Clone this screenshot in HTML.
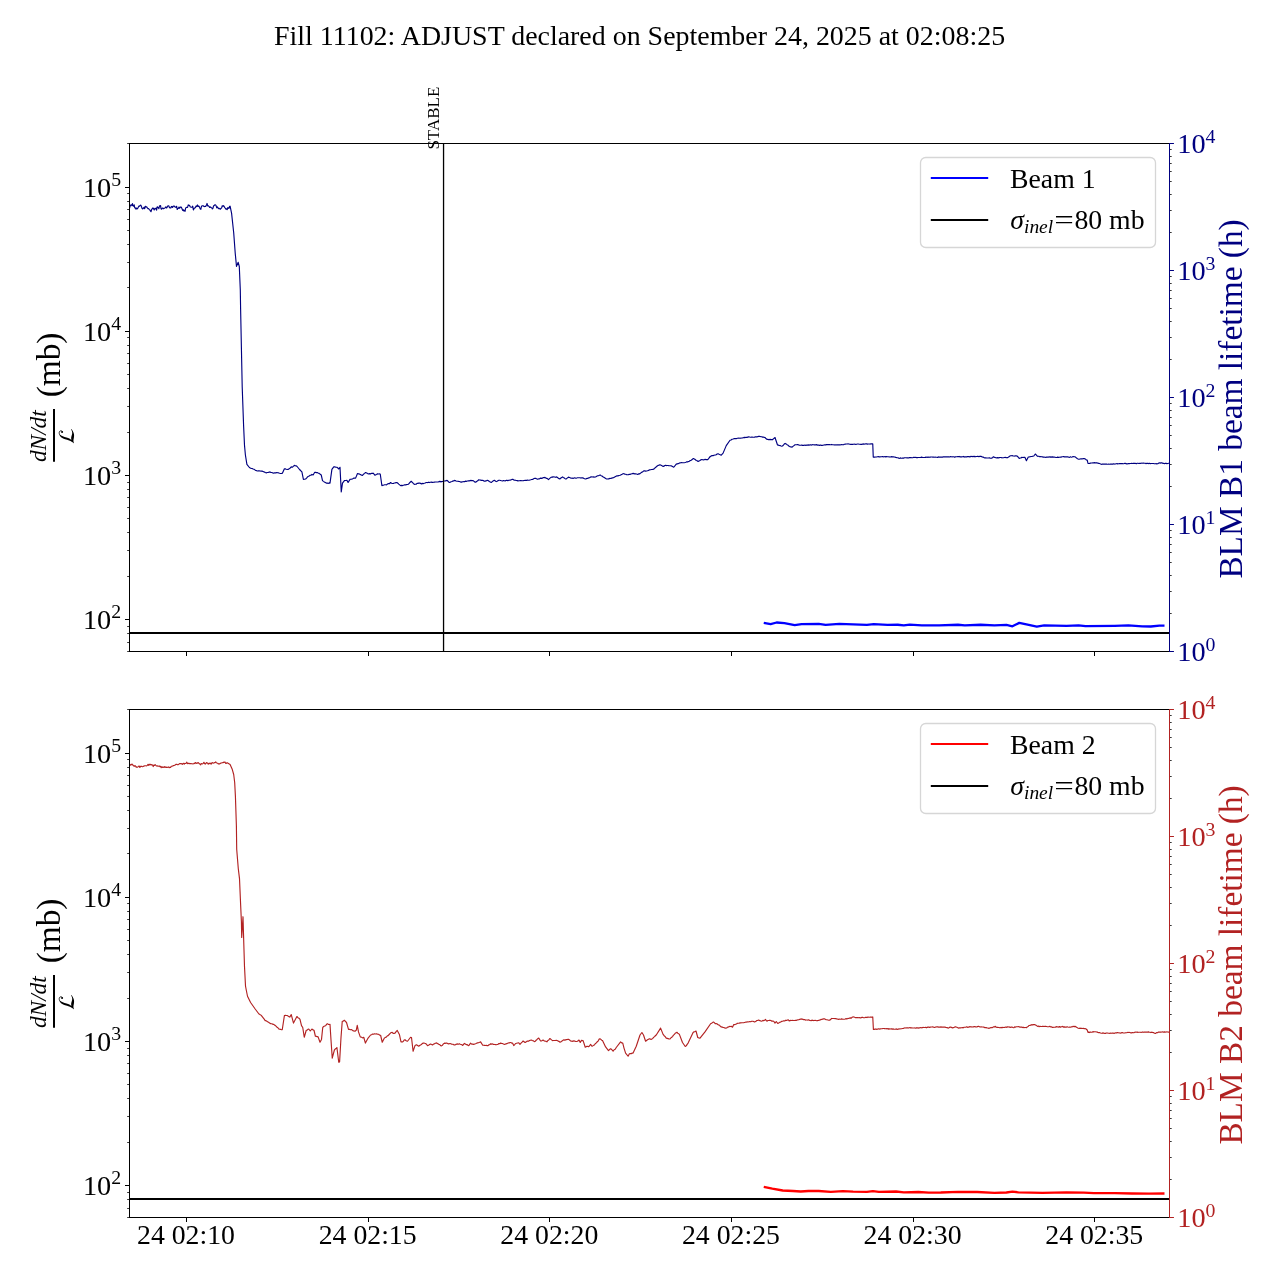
<!DOCTYPE html>
<html lang="en"><head><meta charset="utf-8"><title>Fill 11102</title>
<style>html,body{margin:0;padding:0;background:#fff}body{width:1280px;height:1280px;overflow:hidden}svg{display:block;will-change:transform}text{font-family:'Liberation Serif', serif;}</style></head><body>
<svg width="1280" height="1280" viewBox="0 0 1280 1280">
<rect width="1280" height="1280" fill="#fff"/>
<text x="639.6" y="45.4" font-size="27.93" text-anchor="middle">Fill 11102: ADJUST declared on September 24, 2025 at 02:08:25</text>
<clipPath id="c1"><rect x="129.5" y="143.5" width="1040.0" height="508.0"/></clipPath>
<g clip-path="url(#c1)" fill="none" stroke-linejoin="round">
<path d="M129.57,208.08 L130.15,206.02 L130.72,204.93 L131.3,204.73 L131.88,205.64 L132.46,203.65 L133.05,205.75 L133.63,206.25 L134.19,204.89 L134.75,208.01 L135.31,207.73 L135.87,209.1 L136.43,208.05 L136.98,208.89 L137.63,208.48 L138.28,207.2 L138.93,206.11 L139.58,206.08 L140.23,205.23 L140.87,205.14 L141.5,206.78 L142.14,208.53 L142.77,208.89 L143.41,208.28 L144.04,207.24 L144.68,208.66 L145.31,206.25 L145.99,206.84 L146.67,206.86 L147.34,207.88 L147.95,208.59 L148.56,208.64 L149.17,209.33 L149.78,209.95 L150.39,210.82 L151.03,211.7 L151.66,209.37 L152.3,208.75 L152.93,207.88 L153.56,208.67 L154.2,210 L154.83,208.46 L155.47,208.89 L156.04,208.06 L156.61,210.21 L157.18,206.73 L157.75,207.28 L158.33,207.77 L158.9,208.74 L159.47,205.82 L160.04,206.25 L160.55,205.58 L161.06,208.79 L161.66,209.22 L162.27,208.17 L162.88,208.17 L163.49,208.75 L164.1,208.28 L164.68,208.1 L165.26,207.79 L165.84,206.85 L166.42,207.86 L167,207.67 L167.58,206.13 L168.16,205.74 L168.84,206.09 L169.52,207.75 L170.2,207.88 L170.79,207.95 L171.38,206.43 L171.97,206.59 L172.57,207.5 L173.16,206.27 L173.75,206.05 L174.33,206.13 L174.91,206.91 L175.49,207.06 L176.07,207.44 L176.65,206.24 L177.23,209.54 L177.81,208.48 L178.42,208.32 L179.03,207.13 L179.64,208.29 L180.25,207.43 L180.86,206.86 L181.45,207.45 L182.05,208.85 L182.64,210.39 L183.23,209.6 L183.82,211.01 L184.41,210.31 L185.05,211.28 L185.68,207.97 L186.32,207.61 L186.95,207.27 L187.59,207.38 L188.22,204.88 L188.86,205.53 L189.49,205.23 L190.13,206.78 L190.76,207.08 L191.4,207.22 L192.03,207.27 L192.71,206.16 L193.39,209.96 L194.06,208.48 L194.74,208.11 L195.42,207.47 L196.09,206.05 L196.77,206.58 L197.45,204.94 L198.13,206.45 L198.8,206.12 L199.48,207.11 L200.16,208.89 L200.83,209.41 L201.51,206.19 L202.19,205.84 L202.8,205.73 L203.41,205.8 L204.02,206.54 L204.63,206.57 L205.24,206.25 L205.85,206.36 L206.45,205.04 L207.06,203.43 L207.67,205.98 L208.28,205.74 L208.96,206.33 L209.64,207.47 L210.31,206.86 L210.99,207.45 L211.67,207.72 L212.35,208.89 L212.95,208.39 L213.56,205.98 L214.17,205.56 L214.78,204.75 L215.39,204.73 L216.07,205.67 L216.75,207.82 L217.42,206.86 L218.03,207.92 L218.64,208.67 L219.25,208.39 L219.86,208.87 L220.47,209.09 L221.06,208.26 L221.66,207.92 L222.25,205.73 L222.84,206.24 L223.43,205.69 L224.02,206.25 L224.66,207.58 L225.29,208.1 L225.93,209.14 L226.56,208.89 L227.17,209.61 L227.78,207.59 L228.39,208.15 L229,208.34 L229.61,206.25 L230.1,206.2 L231.6,213.4 L233.7,232.7 L235.2,253 L236.5,266.4 L238.2,262.3 L239.3,266.5 L240.3,290 L240.6,308.6 L241.4,347.7 L242.2,386.7 L243.6,425.8 L244.5,445.3 L245.4,455 L246.9,464.4 L249.4,467.5 L250.32,468 L251.25,468.46 L252.18,468.5 L253.1,469 L253.98,469.26 L254.86,469.86 L255.74,470.48 L256.62,470.67 L257.5,471 L258.38,470.82 L259.26,470.88 L260.14,471 L261.02,471.15 L261.9,471 L262.77,471.38 L263.64,471.71 L264.51,472.11 L265.38,472.55 L266.25,472.9 L267.19,472.54 L268.12,472.41 L269.06,472.2 L270,471.9 L270.94,472.46 L271.88,472.5 L272.81,472.96 L273.75,473.1 L274.8,472.74 L275.85,472.84 L276.9,472.5 L277.82,472.78 L278.75,472.92 L279.68,473.25 L280.6,473.5 L281.55,473.45 L282.5,473.1 L284.4,468.75 L285.32,468.87 L286.25,469.24 L287.18,469.48 L288.1,469.4 L289.15,468.83 L290.2,467.99 L291.25,466.9 L292.5,467.25 L293.45,466.13 L294.4,465.4 L295.23,465.74 L296.07,465.87 L296.9,466.25 L298.75,468.5 L299.8,469.79 L300.85,470.78 L301.9,471.9 L303.4,479.4 L304.5,479.24 L305.6,479 L306.55,478.03 L307.5,476.9 L308.38,476.31 L309.26,475.92 L310.14,475.29 L311.02,475.23 L311.9,474.4 L313.1,475 L314.75,472.25 L315.59,472.35 L316.43,472.58 L317.26,472.47 L318.1,472.9 L319.15,473.37 L320.2,474.17 L321.25,475 L322.5,480.6 L323.44,481.36 L324.38,481.98 L325.31,482.52 L326.25,483.1 L327.19,483.01 L328.12,483.4 L329.06,482.94 L330,483.1 L331.9,469.4 L333.75,466.9 L334.8,466.89 L335.85,467.22 L336.9,467.25 L337.82,467.97 L338.75,469 L340,467.25 L341.25,491.9 L342.5,483.1 L344.4,480.6 L345.23,480.53 L346.07,480.52 L346.9,480.25 L348.1,482.5 L350,479.4 L350.8,479.21 L351.6,479.1 L352.4,478.85 L353.2,478.56 L354,477.98 L354.8,478.1 L355.6,478.1 L357.5,473.5 L358.33,473.82 L359.17,473.88 L360,474.37 L360.83,474.8 L361.67,475.3 L362.5,475.4 L363.53,474.22 L364.57,473.39 L365.6,472.5 L366.65,473.04 L367.7,473.59 L368.75,474 L369.62,473.61 L370.49,473.94 L371.36,473.34 L372.23,473.46 L373.1,473.1 L374.05,474.15 L375,475.25 L375.83,474.82 L376.67,474.52 L377.5,473.75 L378.42,473.95 L379.33,473.94 L380.25,474 L381.9,485.6 L382.82,485.23 L383.75,485.08 L384.68,484.74 L385.6,484.75 L386.55,484.82 L387.5,484.01 L388.45,483.6 L389.4,483.75 L390.6,482.5 L391.55,483.27 L392.5,483.5 L393.38,483.51 L394.26,483.05 L395.14,483.04 L396.02,482.58 L396.9,482.5 L397.82,483.19 L398.75,484.13 L399.68,484.89 L400.6,485.6 L401.43,485.4 L402.27,485.6 L403.1,485.32 L403.93,485.09 L404.77,484.75 L405.6,484.83 L406.43,484.62 L407.27,484.53 L408.1,484.4 L409.15,483.48 L410.2,482.21 L411.25,481.25 L412.3,482.35 L413.35,483.48 L414.4,484.4 L415.27,484.2 L416.14,484.25 L417.01,483.35 L417.88,483.36 L418.75,483.1 L419.62,483.05 L420.49,483.35 L421.36,483.89 L422.23,483.36 L423.1,483.75 L424.15,483.29 L425.2,483.03 L426.25,482.5 L427.08,482.49 L427.92,482.59 L428.75,482.17 L429.58,482.55 L430.42,482.21 L431.25,482.14 L432.08,482.4 L432.92,482.36 L433.75,482.25 L434.62,482.06 L435.5,481.97 L436.38,482 L437.25,481.95 L438.12,481.85 L439,481.64 L439.88,481.36 L440.75,481.86 L441.62,481.61 L442.5,481.5 L443.33,481.16 L444.17,480.95 L445,480.94 L445.83,480.84 L446.67,480.42 L447.5,480.6 L448.45,481.78 L449.4,482.5 L450.23,482.22 L451.07,481.75 L451.9,481.51 L452.73,481.14 L453.57,480.92 L454.4,480.4 L455.26,480.64 L456.11,481.03 L456.97,481.29 L457.82,481.2 L458.68,481.39 L459.54,481.54 L460.39,481.85 L461.25,482.1 L462.14,481.83 L463.04,481.79 L463.93,481.68 L464.82,481.56 L465.71,481.13 L466.61,481.33 L467.5,481 L468.33,480.87 L469.17,480.82 L470,480.67 L470.83,480.35 L471.67,480.63 L472.5,480.5 L473.53,480.8 L474.57,481.85 L475.6,482.25 L476.65,481.43 L477.7,480.83 L478.75,479.75 L479.69,479.98 L480.62,480.11 L481.56,480.35 L482.5,480.25 L483.33,480.58 L484.17,481.16 L485,481.25 L485.83,480.9 L486.67,480.63 L487.5,480.25 L488.44,480.71 L489.38,481.46 L490.31,482.05 L491.25,482.5 L492.3,481.67 L493.35,480.8 L494.4,480.25 L495.32,480.92 L496.25,481.6 L497.08,481.22 L497.92,480.68 L498.75,480.25 L499.69,480.28 L500.62,480.51 L501.56,480.77 L502.5,481 L503.39,480.48 L504.29,480.69 L505.18,480.91 L506.07,480.37 L506.96,480.43 L507.86,480.63 L508.75,480.25 L509.62,480.19 L510.49,480.06 L511.36,479.72 L512.23,479.36 L513.1,479.4 L514.15,480.23 L515.2,480.18 L516.25,480.5 L517.14,480.58 L518.04,480.83 L518.93,480.74 L519.82,480.65 L520.71,480.5 L521.61,480.69 L522.5,480.75 L523.33,480.64 L524.17,480.48 L525,480.36 L525.83,480.26 L526.67,480.32 L527.5,480.16 L528.33,480.23 L529.17,480.25 L530,480 L530.8,479.8 L531.6,479.5 L532.4,479.5 L533.2,479.11 L534,478.52 L534.8,478.39 L535.6,478.25 L536.55,478.78 L537.5,479.25 L538.33,478.91 L539.17,478.96 L540,478.36 L540.83,478.12 L541.67,478.38 L542.5,478.11 L543.33,477.56 L544.17,477.62 L545,477.4 L545.88,478.16 L546.75,478.32 L547.62,478.86 L548.5,479.6 L549.42,478.62 L550.33,477.88 L551.25,477.25 L552.08,476.92 L552.92,477.06 L553.75,476.84 L554.58,477.03 L555.42,477.31 L556.25,476.9 L557.19,477.26 L558.12,478.1 L559.06,478.66 L560,479 L560.83,477.93 L561.67,477.62 L562.5,476.9 L563.38,477.45 L564.25,477.95 L565.12,478.68 L566,479.1 L566.83,478.36 L567.67,477.82 L568.5,477.1 L569.42,477.42 L570.33,477.85 L571.25,478.25 L572.14,478.05 L573.04,478.47 L573.93,478.03 L574.82,477.79 L575.71,478.2 L576.61,478.07 L577.5,477.75 L578.33,477.74 L579.17,477.7 L580,477.71 L580.83,478.05 L581.67,477.82 L582.5,477.9 L583.53,478.15 L584.57,478.77 L585.6,479 L586.41,478.64 L587.21,478.35 L588.02,478.34 L588.83,477.85 L589.64,477.59 L590.44,477.14 L591.25,476.75 L592.19,477.02 L593.12,476.85 L594.06,477.09 L595,477 L595.88,476.83 L596.75,476.27 L597.62,475.8 L598.5,475.75 L599.38,475.31 L600.25,475 L601.12,475.66 L602,476.03 L602.88,476.77 L603.75,477.25 L604.69,477.84 L605.62,478.5 L606.56,478.85 L607.5,479 L608.33,478.88 L609.17,478.86 L610,478.35 L610.83,478.45 L611.67,478.11 L612.5,477.9 L613.38,477.71 L614.26,477.15 L615.14,476.66 L616.02,476.19 L616.9,475.9 L617.93,475.88 L618.97,475.48 L620,475.25 L621.03,474.86 L622.07,474.33 L623.1,473.75 L623.98,473.62 L624.86,474.25 L625.74,474.29 L626.62,474.61 L627.5,474.75 L628.33,474.71 L629.17,474.23 L630,474.4 L631.03,474.02 L632.07,473.72 L633.1,473.4 L633.93,473.63 L634.77,473.88 L635.6,473.79 L636.43,474.03 L637.27,474.33 L638.1,474.4 L638.93,473.68 L639.77,473.83 L640.6,473.1 L641.65,472.22 L642.7,471.84 L643.75,470.9 L644.69,470.89 L645.62,471.13 L646.56,470.95 L647.5,470.75 L648.53,470.41 L649.57,469.81 L650.6,469.75 L651.65,469.55 L652.7,469.37 L653.75,469.1 L654.62,468.45 L655.49,467.42 L656.36,466.75 L657.23,466.02 L658.1,465.4 L659.05,465.12 L660,464.75 L661.03,465.16 L662.07,465.83 L663.1,466.4 L663.93,466.16 L664.77,465.57 L665.6,465.25 L666.41,465.56 L667.21,465.48 L668.02,465.49 L668.83,465.8 L669.64,465.79 L670.44,465.76 L671.25,465.9 L672.08,466.26 L672.92,466.79 L673.75,467.25 L676.25,464.1 L677.19,463.86 L678.12,463.68 L679.06,463.24 L680,462.9 L680.83,462.74 L681.67,462.56 L682.5,462.74 L683.33,462.7 L684.17,462.75 L685,462.5 L685.88,462.17 L686.76,461.79 L687.64,461.88 L688.52,461.47 L689.4,461.25 L690.22,460.51 L691.04,460.41 L691.86,459.74 L692.68,459.06 L693.5,458.5 L694.42,459.14 L695.34,459.58 L696.26,460.46 L697.18,460.83 L698.1,461.5 L699.05,460.93 L700,460.45 L700.95,459.82 L701.9,459.5 L702.7,459.7 L703.5,459.84 L704.3,459.73 L705.1,459.32 L705.9,459.63 L706.7,459.61 L707.5,459.75 L708.44,458.85 L709.38,457.48 L710.31,456.52 L711.25,455.9 L712.19,455.6 L713.12,455.61 L714.06,455.2 L715,455 L716.03,454.93 L717.07,454.03 L718.1,453.75 L719.15,454.26 L720.2,454.73 L721.25,455.25 L722.17,454.04 L723.1,453.1 L726.25,445.6 L730,440.25 L731.03,440.01 L732.07,439.21 L733.1,439 L733.98,438.68 L734.86,438.64 L735.74,438.47 L736.62,438.58 L737.5,438.25 L738.33,438.11 L739.17,438.21 L740,438 L740.83,438.22 L741.67,437.96 L742.5,437.9 L743.39,437.8 L744.29,437.36 L745.18,437.58 L746.07,437.23 L746.96,437.33 L747.86,437.12 L748.75,436.9 L749.58,437.05 L750.42,437.2 L751.25,437.14 L752.08,436.99 L752.92,437.22 L753.75,437.25 L754.56,437.13 L755.36,436.78 L756.17,436.92 L756.98,436.91 L757.79,436.57 L758.59,436.41 L759.4,436.25 L760.2,436.5 L761,436.78 L761.8,436.7 L762.6,437.12 L763.4,437.03 L764.2,437.41 L765,437.5 L765.95,438.53 L766.9,439.4 L767.7,439.25 L768.5,439.6 L769.3,439.58 L770.1,439.34 L770.9,439.58 L771.7,439.6 L772.5,439.75 L773.33,438.86 L774.17,438.32 L775,437.5 L777.5,445 L778.38,445.12 L779.26,445.51 L780.14,445.58 L781.02,445.96 L781.9,446.25 L782.74,445.83 L783.58,444.89 L784.41,443.87 L785.25,443.4 L786.12,443.9 L787,444.68 L787.88,445.09 L788.75,446 L789.8,446.57 L790.85,446.83 L791.9,447.25 L792.93,446.41 L793.97,445.59 L795,444.75 L795.83,444.71 L796.67,444.71 L797.5,444.47 L798.33,444.78 L799.17,445.15 L800,445.29 L800.83,445.23 L801.67,445.04 L802.5,445.4 L803.33,445.3 L804.17,445.32 L805,445.06 L805.83,445.44 L806.67,445.01 L807.5,445.14 L808.33,444.92 L809.17,445.2 L810,444.81 L810.83,444.82 L811.67,445.1 L812.5,444.68 L813.33,444.75 L814.17,444.88 L815,444.75 L815.89,444.9 L816.79,444.66 L817.68,445.12 L818.57,445.07 L819.46,445.41 L820.36,445.03 L821.25,445.4 L822.14,445.41 L823.04,445.24 L823.93,445 L824.82,444.88 L825.71,444.89 L826.61,444.6 L827.5,444.6 L828.33,444.56 L829.17,444.52 L830,444.68 L830.83,444.79 L831.67,444.45 L832.5,444.72 L833.33,444.79 L834.17,445 L835,444.66 L835.83,445 L836.67,444.75 L837.5,444.92 L838.33,444.89 L839.17,444.92 L840,444.9 L840.89,444.72 L841.79,444.49 L842.68,444.75 L843.57,444.62 L844.46,444.24 L845.36,444.1 L846.25,444 L847.14,444.02 L848.04,443.9 L848.93,443.99 L849.82,444.29 L850.71,444.44 L851.61,444.31 L852.5,444.4 L853.33,444.22 L854.17,444.17 L855,444.22 L855.83,444.4 L856.67,444.27 L857.5,444.01 L858.33,444.03 L859.17,444.24 L860,444.21 L860.83,444.41 L861.67,444.33 L862.5,444.11 L863.33,443.94 L864.17,444.06 L865,444 L865.86,443.79 L866.72,443.83 L867.58,444.08 L868.44,443.99 L869.31,444.01 L870.17,444.08 L871.03,443.74 L871.89,443.9 L872.75,443.75 L873.25,457.1 L874.09,457.08 L874.93,457.08 L875.77,457.03 L876.61,457.04 L877.45,456.7 L878.29,456.67 L879.12,456.86 L879.96,456.89 L880.8,456.7 L881.64,456.73 L882.48,456.48 L883.32,456.82 L884.16,456.71 L885,456.6 L885.83,456.88 L886.67,456.62 L887.5,456.71 L888.33,456.78 L889.17,457.02 L890,456.94 L890.83,456.95 L891.67,456.67 L892.5,456.84 L893.33,456.78 L894.17,457.03 L895,457.1 L895.94,457.49 L896.88,457.61 L897.81,457.7 L898.75,458.1 L899.56,458.39 L900.38,457.86 L901.19,458.23 L902,458.16 L902.81,457.99 L903.62,458.13 L904.44,457.72 L905.25,457.77 L906.06,457.78 L906.88,457.86 L907.69,457.74 L908.5,458.01 L909.31,457.65 L910.12,457.64 L910.94,457.46 L911.75,457.7 L912.56,457.72 L913.38,457.44 L914.19,457.33 L915,457.5 L915.81,457.26 L916.61,457.65 L917.42,457.58 L918.23,457.48 L919.03,457.54 L919.84,457.48 L920.65,457.46 L921.45,457.11 L922.26,457.44 L923.06,457.45 L923.87,457.5 L924.68,457.46 L925.48,457.18 L926.29,457.32 L927.1,457.03 L927.9,457.47 L928.71,457.01 L929.52,457.32 L930.32,457.07 L931.13,457.05 L931.94,457.02 L932.74,457.09 L933.55,457.19 L934.35,457.29 L935.16,457.05 L935.97,457.22 L936.77,457.2 L937.58,457.37 L938.39,456.94 L939.19,457.06 L940,457 L940.81,457.1 L941.61,457.01 L942.42,457.07 L943.23,456.86 L944.03,456.9 L944.84,456.85 L945.65,456.84 L946.45,456.79 L947.26,456.91 L948.06,456.72 L948.87,456.82 L949.68,456.99 L950.48,456.64 L951.29,456.72 L952.1,456.81 L952.9,456.7 L953.71,456.7 L954.52,457.15 L955.32,456.9 L956.13,456.76 L956.94,456.71 L957.74,456.57 L958.55,456.63 L959.35,456.44 L960.16,456.89 L960.97,456.71 L961.77,456.92 L962.58,456.77 L963.39,456.45 L964.19,457.06 L965,456.75 L965.81,456.81 L966.62,456.85 L967.44,456.61 L968.25,456.59 L969.06,456.63 L969.88,456.93 L970.69,456.43 L971.5,456.44 L972.31,456.67 L973.12,456.26 L973.94,456.79 L974.75,456.36 L975.56,456.71 L976.38,456.48 L977.19,456.43 L978,456.29 L978.81,456.68 L979.62,456.39 L980.44,456.2 L981.25,456.4 L982.19,456.87 L983.12,457.13 L984.06,457.61 L985,457.9 L985.86,457.86 L986.73,458.01 L987.59,458.05 L988.45,458 L989.31,457.76 L990.17,458.13 L991.04,458.29 L991.9,458.1 L992.7,457.49 L993.5,456.75 L994.7,457.4 L995.9,457.75 L996.75,457.86 L997.6,457.68 L998.45,457.88 L999.3,457.67 L1000.15,457.54 L1001,457.48 L1001.85,457.84 L1002.7,457.77 L1003.55,457.75 L1004.4,457.55 L1005.25,457.34 L1006.1,457.74 L1006.95,457.59 L1007.8,457.6 L1008.7,456.9 L1009.6,456.3 L1010.5,455.8 L1011.31,455.73 L1012.12,455.55 L1012.94,455.97 L1013.75,456.01 L1014.56,456.06 L1015.38,455.89 L1016.19,455.78 L1017,456 L1018.1,457.03 L1019.2,458.5 L1020.1,458.05 L1021,457.98 L1021.9,457.3 L1022.9,457.45 L1023.9,457.3 L1024.9,457.3 L1026.4,460.7 L1028.3,457 L1029.22,456.91 L1030.13,456.79 L1031.05,456.51 L1031.97,456.37 L1032.88,456.2 L1033.8,456 L1035.3,454 L1036.4,455.06 L1037.5,456.3 L1038.32,456.23 L1039.14,456.43 L1039.97,456.81 L1040.79,456.49 L1041.61,456.79 L1042.43,456.9 L1043.26,457.08 L1044.08,457.12 L1044.9,457.3 L1045.76,457.37 L1046.61,457.13 L1047.47,457.13 L1048.33,457.18 L1049.19,456.79 L1050.04,457.13 L1050.9,456.9 L1051.74,457.15 L1052.59,456.86 L1053.43,457.14 L1054.27,457.12 L1055.11,457.27 L1055.96,457.54 L1056.8,457.5 L1057.64,457.09 L1058.49,457.4 L1059.33,457.22 L1060.17,457.04 L1061.01,457.28 L1061.86,456.74 L1062.7,456.7 L1063.56,456.53 L1064.41,456.9 L1065.27,456.94 L1066.13,456.89 L1066.99,456.72 L1067.84,456.83 L1068.7,457.2 L1069.59,457.39 L1070.47,456.82 L1071.36,457.2 L1072.24,457.04 L1073.13,456.49 L1074.01,456.8 L1074.9,456.7 L1075.75,457.4 L1076.6,458.07 L1077.45,458.71 L1078.3,459.1 L1079.16,459.23 L1080.01,458.95 L1080.87,458.85 L1081.73,458.78 L1082.59,458.83 L1083.44,458.52 L1084.3,458.6 L1085.27,458.93 L1086.23,459.96 L1087.2,460.1 L1088,463.4 L1088.81,463.49 L1089.62,463.44 L1090.43,463.17 L1091.24,463.01 L1092.05,463.01 L1092.85,462.89 L1093.66,462.85 L1094.47,462.64 L1095.28,462.92 L1096.09,462.82 L1096.9,462.7 L1097.83,463.15 L1098.75,463.36 L1099.67,463.56 L1100.6,464 L1101.41,464.33 L1102.22,464.17 L1103.03,464.12 L1103.84,464.18 L1104.65,464 L1105.46,464.17 L1106.27,463.95 L1107.08,464.24 L1107.89,464.24 L1108.7,464.1 L1109.53,464.21 L1110.36,464.12 L1111.18,464.05 L1112.01,464.05 L1112.84,464.1 L1113.67,463.89 L1114.49,464.06 L1115.32,464.04 L1116.15,463.7 L1116.98,463.61 L1117.81,463.9 L1118.63,463.78 L1119.46,463.68 L1120.29,463.59 L1121.12,463.59 L1121.94,463.48 L1122.77,463.66 L1123.6,463.7 L1124.4,463.44 L1125.2,463.39 L1126,463.63 L1126.8,463.87 L1127.6,463.81 L1128.4,463.57 L1129.2,463.64 L1130,463.52 L1130.8,463.52 L1131.6,463.4 L1132.4,463.51 L1133.2,463.32 L1134,463.36 L1134.8,463.43 L1135.6,463.43 L1136.4,463.74 L1137.2,463.27 L1138,463.21 L1138.8,463.47 L1139.6,463.44 L1140.4,463.44 L1141.2,463.3 L1142,463.06 L1142.8,463.23 L1143.6,463.06 L1144.4,463.25 L1145.23,463.27 L1146.06,463.59 L1146.89,463.3 L1147.73,463.4 L1148.56,463.59 L1149.39,463.24 L1150.22,463.61 L1151.05,463.47 L1151.88,463.45 L1152.71,463.53 L1153.54,463.47 L1154.38,463.79 L1155.21,463.71 L1156.04,463.66 L1156.87,463.84 L1157.7,463.8 L1158.53,463.29 L1159.35,462.81 L1160.17,463.18 L1161,462.7 L1161.85,462.86 L1162.7,463.32 L1163.55,463.3 L1164.4,463.7 L1165.25,463.34 L1166.1,463.37 L1166.95,463.62 L1167.8,463.46 L1168.65,463.22 L1169.5,463.25" stroke="#000080" stroke-width="1.15"/>
<path d="M129.5,633 H1169.5" stroke="#000" stroke-width="2.08"/>
<path d="M443.55,143.5 V651.5" stroke="#000" stroke-width="1.3"/>
<path d="M763.75,622.9 L770.6,624.1 L776.6,622.5 L784.4,623.2 L794.7,625.1 L801.6,624.2 L818.75,623.9 L825.6,624.9 L839.4,623.9 L853.1,624.4 L866.9,624.9 L873.75,624.2 L887.5,624.9 L897.8,624.75 L903.8,625.4 L909.8,624.6 L921.9,625.3 L939.1,625.4 L958,624.75 L964.8,625.3 L980.6,624.75 L994.4,625.4 L1006.4,624.9 L1012.4,626.3 L1019.3,622.9 L1028.75,624.9 L1036.8,626.6 L1044.2,625.4 L1066.6,625.95 L1078.6,625.4 L1085.5,626.1 L1114.7,625.8 L1128.4,625.4 L1142.2,626.3 L1150.8,626.5 L1159.4,625.6 L1164.5,625.6" stroke="#0000ff" stroke-width="2.3" stroke-linecap="butt"/>
</g>
<path d="M129.5,651.5 h-2.35 M129.5,642.5 h-2.35 M129.5,633.5 h-2.35 M129.5,626.5 h-2.35 M129.5,576.5 h-2.35 M129.5,550.5 h-2.35 M129.5,532.5 h-2.35 M129.5,518.5 h-2.35 M129.5,507.5 h-2.35 M129.5,497.5 h-2.35 M129.5,489.5 h-2.35 M129.5,482.5 h-2.35 M129.5,432.5 h-2.35 M129.5,406.5 h-2.35 M129.5,388.5 h-2.35 M129.5,374.5 h-2.35 M129.5,363.5 h-2.35 M129.5,353.5 h-2.35 M129.5,345.5 h-2.35 M129.5,337.5 h-2.35 M129.5,287.5 h-2.35 M129.5,262.5 h-2.35 M129.5,244.5 h-2.35 M129.5,230.5 h-2.35 M129.5,219.5 h-2.35 M129.5,209.5 h-2.35 M129.5,201.5 h-2.35 M129.5,193.5 h-2.35 M129.5,143.5 h-2.35" stroke="#000" stroke-opacity="0.78" stroke-width="1" fill="none"/>
<path d="M129.5,619.5 h-4.5 M129.5,475.5 h-4.5 M129.5,331.5 h-4.5 M129.5,187.5 h-4.5" stroke="#000" stroke-width="1" fill="none"/>
<path d="M1169.5,613.5 h2.2 M1169.5,591.5 h2.2 M1169.5,575.5 h2.2 M1169.5,562.5 h2.2 M1169.5,552.5 h2.2 M1169.5,544.5 h2.2 M1169.5,537.5 h2.2 M1169.5,530.5 h2.2 M1169.5,486.5 h2.2 M1169.5,464.5 h2.2 M1169.5,448.5 h2.2 M1169.5,435.5 h2.2 M1169.5,425.5 h2.2 M1169.5,417.5 h2.2 M1169.5,410.5 h2.2 M1169.5,403.5 h2.2 M1169.5,359.5 h2.2 M1169.5,337.5 h2.2 M1169.5,321.5 h2.2 M1169.5,308.5 h2.2 M1169.5,298.5 h2.2 M1169.5,290.5 h2.2 M1169.5,283.5 h2.2 M1169.5,276.5 h2.2 M1169.5,232.5 h2.2 M1169.5,210.5 h2.2 M1169.5,194.5 h2.2 M1169.5,181.5 h2.2 M1169.5,171.5 h2.2 M1169.5,163.5 h2.2 M1169.5,156.5 h2.2 M1169.5,149.5 h2.2" stroke="#000" stroke-opacity="0.78" stroke-width="1" fill="none"/>
<path d="M1169.5,651.5 h4.45 M1169.5,524.5 h4.45 M1169.5,397.5 h4.45 M1169.5,270.5 h4.45 M1169.5,143.5 h4.45" stroke="#000080" stroke-width="1" fill="none"/>
<path d="M186.5,651.5 v4.5 M368.5,651.5 v4.5 M549.5,651.5 v4.5 M731.5,651.5 v4.5 M913.5,651.5 v4.5 M1094.5,651.5 v4.5" stroke="#000" stroke-width="1" fill="none"/>
<path d="M129.5,651.5 V143.5 M129.0,143.5 H1169.5 M129.0,651.5 H1169.5" stroke="#000" stroke-width="1" fill="none" stroke-linecap="butt"/>
<path d="M1169.5,143.0 V652.0" stroke="#000080" stroke-width="1" fill="none"/>
<text x="82.9" y="628.9" font-size="28.3">10<tspan font-size="19.8" dy="-10.7">2</tspan></text>
<text x="82.9" y="484.9" font-size="28.3">10<tspan font-size="19.8" dy="-10.7">3</tspan></text>
<text x="82.9" y="340.9" font-size="28.3">10<tspan font-size="19.8" dy="-10.7">4</tspan></text>
<text x="82.9" y="196.9" font-size="28.3">10<tspan font-size="19.8" dy="-10.7">5</tspan></text>
<text x="1177.3" y="660.9" font-size="28.3" fill="#000080">10<tspan font-size="19.8" dy="-10.3">0</tspan></text>
<text x="1177.3" y="533.9" font-size="28.3" fill="#000080">10<tspan font-size="19.8" dy="-10.3">1</tspan></text>
<text x="1177.3" y="406.9" font-size="28.3" fill="#000080">10<tspan font-size="19.8" dy="-10.3">2</tspan></text>
<text x="1177.3" y="279.9" font-size="28.3" fill="#000080">10<tspan font-size="19.8" dy="-10.3">3</tspan></text>
<text x="1177.3" y="152.9" font-size="28.3" fill="#000080">10<tspan font-size="19.8" dy="-10.3">4</tspan></text>
<text transform="translate(1241.7,578.6) rotate(-90)" font-size="33.33" textLength="359.3" lengthAdjust="spacing" fill="#000080">BLM B1 beam lifetime (h)</text>
<g transform="translate(61.4,461.7) rotate(-90)">
<text x="-0.4" y="-15.5" font-size="23.33" font-style="italic">dN/dt</text>
<path d="M0,-7.4 H52.8" stroke="#000" stroke-width="2" fill="none"/>
</g>
<g transform="translate(56,424) scale(0.01875)"><circle cx="325" cy="430" r="54" fill="#000"/><path d="M335,395 C295,335 210,345 180,420 C158,480 170,560 235,625" fill="none" stroke="#000" stroke-width="42" stroke-linecap="round"/><path d="M195,575 C300,640 420,680 560,720 C680,755 760,790 820,850 C800,760 810,680 840,600 C870,520 870,440 850,380 C835,335 810,300 795,280 L835,275 C880,340 940,430 960,540 C975,650 950,760 930,850 C925,900 935,960 950,1010 L925,1020 C880,960 800,920 700,880 C560,830 400,790 290,720 C240,690 205,640 195,575 Z" fill="#000"/></g>
<g transform="translate(61.4,461.7) rotate(-90)">
<text x="56" y="-1.5" font-size="33.33" xml:space="preserve"> (mb)</text>
</g>
<rect x="920.5" y="157.5" width="235" height="90" rx="5.3" ry="5.3" fill="#fff" fill-opacity="0.8" stroke="#d6d6d6" stroke-width="1.3"/>
<path d="M930.8,178 H988.2" stroke="#0000ff" stroke-width="2.05"/>
<path d="M930.8,220 H988.2" stroke="#000" stroke-width="2.05"/>
<text x="1010" y="187.8" font-size="27.78">Beam 1</text>
<text y="228.8" font-size="27.78"><tspan x="1010.3" font-style="italic">σ</tspan><tspan font-size="19.45" font-style="italic" dy="4.4">inel</tspan><tspan x="1054.3" y="228.8" textLength="19.6" lengthAdjust="spacingAndGlyphs">=</tspan><tspan x="1074.4" y="228.8">80 mb</tspan></text>
<clipPath id="c2"><rect x="129.5" y="709.5" width="1040.0" height="508.0"/></clipPath>
<g clip-path="url(#c2)" fill="none" stroke-linejoin="round">
<path d="M129.6,764.15 L130.22,764.87 L130.85,765.15 L131.47,764.47 L132.1,764.1 L132.78,765.04 L133.47,765.65 L134.15,766.29 L134.83,765.62 L135.52,765.95 L136.2,767.22 L136.8,766.95 L137.4,767.27 L138,766.86 L138.6,766.21 L139.2,765.98 L139.85,767.46 L140.5,766.37 L141.15,766.35 L141.8,766.39 L142.5,766.68 L143.2,766.45 L143.9,765.96 L144.6,765.83 L145.3,765.72 L145.98,765.79 L146.67,765.86 L147.35,765.34 L148.03,764.33 L148.72,765.33 L149.4,764.26 L150.04,764.85 L150.68,764.29 L151.31,764.98 L151.95,764.65 L152.59,765.12 L153.22,766.54 L153.86,765.05 L154.5,765.48 L155.17,764.69 L155.83,765.34 L156.5,765.95 L157.17,765.79 L157.83,766.18 L158.5,766.25 L159.18,765.9 L159.87,766.75 L160.55,766.28 L161.23,767.64 L161.92,766.72 L162.6,767.41 L163.27,767.07 L163.93,767.46 L164.6,766.73 L165.27,767.42 L165.93,766.88 L166.6,767.47 L167.25,767.31 L167.9,767.21 L168.55,766.92 L169.2,767.75 L169.9,767.27 L170.6,767.46 L171.3,766.21 L172,766.29 L172.7,765.93 L173.38,765.64 L174.07,765.43 L174.75,765.23 L175.43,764.7 L176.12,764.33 L176.8,764.42 L177.4,764.59 L178,764.72 L178.6,764.2 L179.2,763.95 L179.8,763.55 L180.42,763.61 L181.04,763.48 L181.66,763.85 L182.28,764.4 L182.9,763.55 L183.56,763.22 L184.21,764.24 L184.87,763.3 L185.53,763.45 L186.19,763.24 L186.84,762.16 L187.5,763.6 L188.2,763.58 L188.9,763.14 L189.6,763.68 L190.3,763.68 L191,763.5 L191.64,763.71 L192.28,763.78 L192.91,763.97 L193.55,763.64 L194.19,763.21 L194.82,763.65 L195.46,762.55 L196.1,763.11 L196.76,763.44 L197.41,763 L198.07,762.52 L198.73,763.11 L199.39,763.82 L200.04,764.14 L200.7,764.8 L201.34,763.49 L201.99,763.79 L202.63,763.92 L203.27,763.4 L203.91,762.25 L204.56,763.52 L205.2,764.04 L205.81,763.47 L206.42,762.63 L207.03,762.87 L207.64,763.18 L208.25,764.22 L208.86,763.4 L209.47,763.19 L210.08,763.86 L210.69,763.14 L211.3,764.04 L211.92,762.71 L212.54,762.63 L213.16,762.98 L213.78,763.12 L214.4,762.59 L215.04,762.66 L215.69,761.94 L216.33,762.66 L216.97,762.94 L217.61,763.2 L218.26,763.94 L218.9,763.75 L219.58,763.99 L220.27,763.4 L220.95,762.95 L221.63,762.89 L222.32,762.76 L223,762.69 L223.66,762.17 L224.31,762.37 L224.97,761.94 L225.63,763.36 L226.29,763.38 L226.94,762.73 L227.6,762.9 L230.1,764.4 L232.1,768.9 L233.7,774.5 L234.7,782.7 L235.4,795.9 L235.9,811.1 L236.4,826.3 L236.7,849.3 L238.3,868.8 L239.5,878.6 L240.6,904 L241.4,921.6 L241.7,937.5 L243,916.7 L243.6,937.2 L244.5,966.5 L245.5,986 L246.25,990 L247.5,996.25 L250.6,1002.5 L255,1008.75 L258.75,1013.75 L259.58,1014.42 L260.42,1014.82 L261.25,1015.4 L264.4,1019.4 L265.2,1020.76 L266,1020.66 L266.8,1021.16 L267.6,1021.79 L268.4,1022.14 L269.2,1022.66 L270,1023.4 L270.94,1023.77 L271.88,1023.8 L272.81,1024.34 L273.75,1024.4 L274.58,1025.12 L275.42,1025.52 L276.25,1026.4 L277.08,1027.27 L277.92,1027.77 L278.75,1029 L279.62,1029.17 L280.5,1029.31 L281.38,1029.78 L282.25,1029.75 L284.4,1015.6 L285.43,1015.4 L286.47,1015.55 L287.5,1015.6 L288.62,1016.48 L289.75,1017.1 L291.25,1014.6 L293.5,1023.1 L296.9,1016.5 L297.93,1017.64 L298.97,1018.2 L300,1019.4 L301.5,1025.6 L302.75,1027.5 L304.25,1037.25 L306.25,1030.25 L307.08,1030.18 L307.92,1029.27 L308.75,1029 L310.25,1031 L311.9,1029 L312.95,1029.9 L314,1030.25 L315.4,1036.25 L316.3,1036.4 L317.2,1036.59 L318.1,1036.9 L320,1042.25 L321.5,1039.4 L322.75,1027.5 L323.7,1026.46 L324.65,1025.97 L325.6,1025.8 L326.55,1024.35 L327.5,1023.75 L328.33,1024.32 L329.17,1024.49 L330,1024.4 L331,1040 L332.25,1058.1 L334.4,1050 L335.23,1049.08 L336.07,1048.59 L336.9,1047.5 L338.75,1062.25 L339.6,1061.9 L341,1037.5 L342.25,1021.25 L343.32,1021.07 L344.4,1020.25 L345.45,1021.31 L346.5,1022.5 L348.5,1029.4 L349.42,1029.34 L350.33,1029.79 L351.25,1029.6 L352.19,1030.09 L353.12,1030.92 L354.06,1030.94 L355,1031.25 L356.25,1030.25 L357.25,1025.4 L358.5,1031.9 L360.25,1036.9 L361.38,1037.13 L362.5,1037.9 L363.75,1037.25 L365.4,1043.1 L368.1,1038.1 L370.6,1035 L371.55,1034.68 L372.5,1034.1 L373.45,1034.24 L374.4,1033.75 L375.43,1034.03 L376.47,1033.89 L377.5,1034.1 L378.53,1034.28 L379.57,1035.07 L380.6,1035.25 L382.25,1042.25 L384.4,1038.1 L385.32,1037.39 L386.25,1037.13 L387.18,1036 L388.1,1035.6 L389.15,1034.5 L390.2,1033.41 L391.25,1032.5 L392.19,1032.41 L393.12,1033.43 L394.06,1033.34 L395,1033.1 L396.12,1031.61 L397.25,1030.4 L399.4,1034.4 L401,1041.9 L402.5,1041.9 L403.33,1041.37 L404.17,1040.05 L405,1039.75 L405.83,1040.54 L406.67,1041 L407.5,1041.25 L410.6,1037.25 L411.5,1037.5 L413.1,1051.25 L415,1045.6 L416.5,1044.75 L417.62,1045.42 L418.75,1046.25 L419.62,1045.54 L420.49,1045.05 L421.36,1044.47 L422.23,1043.65 L423.1,1043.1 L423.93,1043.04 L424.77,1043.31 L425.6,1043.5 L426.55,1044.45 L427.5,1045.6 L428.53,1045.25 L429.57,1044.56 L430.6,1044 L431.55,1044.56 L432.5,1045 L433.44,1044.09 L434.38,1043.86 L435.31,1043.34 L436.25,1042.9 L437.12,1043.28 L438,1043.88 L438.88,1044.33 L439.75,1044.55 L440.62,1045.62 L441.5,1045.9 L442.47,1045.18 L443.43,1043.92 L444.4,1043.1 L445.2,1043.34 L446,1043.07 L446.8,1043.09 L447.6,1043.43 L448.4,1043.93 L449.2,1043.64 L450,1043.75 L450.83,1043.61 L451.67,1044.23 L452.5,1044.25 L453.33,1044.42 L454.17,1044.88 L455,1045 L455.88,1044.35 L456.76,1044.09 L457.64,1043.92 L458.52,1044.26 L459.4,1043.75 L460.24,1044.19 L461.07,1044.44 L461.91,1044.84 L462.75,1045.4 L464.4,1043.4 L465.27,1044 L466.14,1044.58 L467.01,1044.56 L467.88,1045.23 L468.75,1045.6 L470.6,1043.1 L471.65,1044.09 L472.7,1044.12 L473.75,1044.4 L474.69,1043.96 L475.62,1043.74 L476.56,1043.31 L477.5,1042.9 L478.53,1042.73 L479.57,1042.33 L480.6,1041.9 L482.75,1045.25 L483.64,1045.2 L484.53,1045.35 L485.43,1045.52 L486.32,1045.34 L487.21,1045.57 L488.1,1045.6 L488.93,1044.78 L489.77,1044.66 L490.6,1043.75 L491.41,1044.26 L492.21,1043.85 L493.02,1044.39 L493.83,1044.37 L494.64,1044.5 L495.44,1044.56 L496.25,1044.75 L497.12,1044.49 L497.99,1044.33 L498.86,1043.49 L499.73,1043.68 L500.6,1043.1 L501.55,1043.38 L502.5,1043.51 L503.45,1044.08 L504.4,1044.4 L505.2,1044.29 L506,1043.85 L506.8,1043.67 L507.6,1043.25 L508.4,1042.93 L509.2,1043.01 L510,1042.5 L510.83,1042.5 L511.67,1043.14 L512.5,1043.1 L513.75,1045.6 L514.67,1044.64 L515.6,1043.5 L516.65,1043.2 L517.7,1042.96 L518.75,1042.75 L520,1044.4 L521.03,1043.21 L522.07,1042.14 L523.1,1041 L524.05,1041.75 L525,1042.5 L525.89,1042.12 L526.79,1041.35 L527.68,1040.96 L528.57,1041.16 L529.46,1040.58 L530.36,1040.24 L531.25,1040 L532.3,1040.51 L533.35,1040.83 L534.4,1041.6 L535.27,1041.27 L536.14,1040.21 L537.01,1039.47 L537.88,1038.57 L538.75,1038.1 L540.6,1041 L541.43,1040.88 L542.27,1040.51 L543.1,1040 L544.05,1040.83 L545,1041.17 L545.95,1041.25 L546.9,1041.9 L547.85,1040.49 L548.8,1039.96 L549.75,1038.5 L550.67,1039.06 L551.58,1039.89 L552.5,1040.6 L553.44,1040.49 L554.38,1040.55 L555.31,1040.48 L556.25,1040.25 L557.19,1040.53 L558.12,1041.12 L559.06,1041.37 L560,1042.25 L561.03,1041.72 L562.07,1040.89 L563.1,1040.25 L563.91,1039.76 L564.71,1040.26 L565.52,1039.9 L566.33,1039.55 L567.14,1039.56 L567.94,1039.4 L568.75,1039.4 L569.58,1040.05 L570.42,1040.69 L571.25,1041.25 L572.14,1041.13 L573.04,1041.36 L573.93,1040.67 L574.82,1041.19 L575.71,1041.41 L576.61,1041.48 L577.5,1041.25 L579,1040 L580.25,1042.5 L581.5,1040.25 L582.3,1040.62 L583.1,1040.6 L585.25,1047.25 L586.08,1046.78 L586.91,1046.38 L587.74,1046.44 L588.57,1046.78 L589.4,1046 L590.6,1044.4 L591.9,1046.25 L592.73,1045.91 L593.57,1045.26 L594.4,1045 L595.2,1043.74 L596,1043.26 L596.8,1042.23 L597.6,1041.55 L598.4,1040.59 L599.2,1039.12 L600,1038.75 L600.83,1039.35 L601.67,1040.17 L602.5,1040.6 L605.6,1046.9 L608.5,1050.6 L609.55,1049.55 L610.6,1048.75 L611.43,1049.32 L612.27,1050.17 L613.1,1051.25 L614.15,1049.71 L615.2,1049.26 L616.25,1047.5 L620.6,1041.9 L621.67,1042.83 L622.75,1043.1 L624,1048.1 L625.6,1053.1 L628.1,1056.25 L629.4,1053.75 L630.33,1053.46 L631.25,1053.75 L632.17,1053.03 L633.1,1053.1 L636.25,1046.25 L640,1035 L641.9,1032.5 L643.5,1035 L645.6,1041.25 L646.55,1040.51 L647.5,1039.84 L648.45,1039.34 L649.4,1038.75 L650.23,1038.99 L651.07,1039.39 L651.9,1039 L652.77,1038.38 L653.64,1037.39 L654.51,1036.65 L655.38,1035.76 L656.25,1035 L660.6,1028.1 L663.1,1034.4 L664.15,1035.73 L665.2,1036.68 L666.25,1038.1 L667.19,1038.39 L668.12,1038.66 L669.06,1039 L670,1039 L670.88,1037.9 L671.76,1037.26 L672.64,1036.31 L673.52,1035.15 L674.4,1034.4 L675.23,1033.25 L676.07,1032.85 L676.9,1032.25 L677.73,1033.17 L678.57,1033.63 L679.4,1034.4 L682.5,1042.5 L685.25,1046.5 L686.2,1045.89 L687.15,1044.37 L688.1,1043.1 L693.1,1032.5 L694.07,1031.85 L695.03,1031.49 L696,1031 L697.75,1037.5 L698.88,1037.91 L700,1038.1 L705,1031.9 L710.6,1023.75 L711.57,1023.32 L712.53,1022.61 L713.5,1022.1 L714.35,1022.62 L715.2,1023.6 L716.05,1023.55 L716.9,1023.75 L717.77,1024.43 L718.64,1024.91 L719.51,1025.25 L720.38,1026.32 L721.25,1026.9 L722.12,1027.06 L722.99,1027.38 L723.86,1027.51 L724.73,1028.04 L725.6,1028.1 L726.65,1027.95 L727.7,1027.15 L728.75,1026.9 L729.58,1026.38 L730.42,1026.55 L731.25,1026.25 L732.5,1027.25 L733.75,1024.6 L734.64,1024.68 L735.54,1024.22 L736.43,1023.99 L737.32,1023.32 L738.21,1023.27 L739.11,1023.28 L740,1022.9 L740.89,1022.9 L741.79,1022.72 L742.68,1022.76 L743.57,1022.73 L744.46,1022.46 L745.36,1022.19 L746.25,1022.25 L747.14,1021.8 L748.04,1022.02 L748.93,1021.79 L749.82,1021.65 L750.71,1021.79 L751.61,1021.25 L752.5,1021.25 L753.33,1021.41 L754.17,1021.84 L755,1021.9 L755.94,1021.23 L756.88,1020.48 L757.81,1020.36 L758.75,1020 L759.58,1020.61 L760.42,1020.71 L761.25,1021.25 L762.08,1020.99 L762.92,1020.41 L763.75,1020.6 L764.58,1020.27 L765.4,1019.4 L766.9,1021.25 L767.93,1020.53 L768.97,1020.44 L770,1020.25 L770.94,1020.47 L771.88,1021.19 L772.81,1021.03 L773.75,1021.25 L775,1023.1 L776.25,1021.5 L777.75,1023.5 L778.7,1022.9 L779.65,1022.27 L780.6,1022.09 L781.55,1021.43 L782.5,1021.25 L783.33,1020.91 L784.17,1020.85 L785,1020.9 L785.83,1020.18 L786.67,1020.52 L787.5,1020 L788.33,1019.77 L789.17,1020.84 L790,1020.6 L790.89,1020.43 L791.79,1020.47 L792.68,1020.41 L793.57,1020.54 L794.46,1020.45 L795.36,1020.36 L796.25,1020.4 L797.08,1020.03 L797.92,1019.85 L798.75,1019.77 L799.58,1019.42 L800.42,1019.17 L801.25,1019.1 L802.08,1018.93 L802.92,1019.41 L803.75,1019.67 L804.58,1019.48 L805.42,1020.08 L806.25,1020 L807.05,1020.04 L807.86,1020.11 L808.66,1019.76 L809.46,1020.32 L810.27,1020.5 L811.07,1020.69 L811.88,1020.17 L812.68,1020.34 L813.48,1020.56 L814.29,1020.55 L815.09,1020.34 L815.89,1020.53 L816.7,1020.78 L817.5,1020.6 L818.36,1020.5 L819.23,1020.13 L820.09,1020.14 L820.95,1019.35 L821.81,1019.55 L822.67,1019.07 L823.54,1018.91 L824.4,1018.75 L825.27,1019.24 L826.14,1019.74 L827.01,1019.76 L827.88,1019.99 L828.75,1020.25 L829.69,1020.19 L830.62,1019.55 L831.56,1018.45 L832.5,1018.5 L833.33,1018.45 L834.17,1018.52 L835,1018.59 L835.83,1018.49 L836.67,1019.04 L837.5,1019.01 L838.33,1019.44 L839.17,1019.07 L840,1019.2 L840.88,1019.17 L841.75,1018.9 L842.62,1019.22 L843.5,1019.21 L844.38,1019.23 L845.25,1019.02 L846.12,1018.59 L847,1018.92 L847.88,1018.38 L848.75,1018.5 L849.62,1018.07 L850.49,1017.87 L851.36,1018.07 L852.23,1017.16 L853.1,1017 L853.91,1016.9 L854.71,1017.28 L855.52,1017.59 L856.33,1017.57 L857.14,1017.67 L857.94,1017.47 L858.75,1017.75 L859.57,1017.63 L860.4,1017.94 L861.22,1017.64 L862.04,1017.42 L862.87,1017.44 L863.69,1017.76 L864.51,1017.79 L865.34,1017.45 L866.16,1017.13 L866.99,1017.63 L867.81,1017.07 L868.63,1017.19 L869.46,1017.21 L870.28,1017.06 L871.1,1016.98 L871.93,1017.32 L872.75,1016.9 L873.4,1029.4 L874.26,1029.41 L875.12,1028.95 L875.99,1029.06 L876.85,1029.4 L877.71,1029 L878.58,1028.74 L879.44,1029.09 L880.3,1028.92 L881.16,1028.75 L882.02,1028.79 L882.89,1028.51 L883.75,1028.5 L884.58,1028.61 L885.42,1028.74 L886.25,1028.54 L887.08,1028.99 L887.92,1028.54 L888.75,1029.27 L889.58,1028.88 L890.42,1029 L891.25,1028.7 L892.08,1029.19 L892.92,1028.88 L893.75,1029.1 L894.64,1029.21 L895.54,1029.09 L896.43,1028.9 L897.32,1029.45 L898.21,1029.08 L899.11,1028.92 L900,1029 L900.83,1028.75 L901.67,1028.72 L902.5,1028.48 L903.33,1028.47 L904.17,1027.98 L905,1027.9 L905.83,1027.96 L906.67,1027.81 L907.5,1027.76 L908.33,1028.09 L909.17,1027.74 L910,1027.56 L910.83,1028.06 L911.67,1027.8 L912.5,1028.04 L913.33,1028.03 L914.17,1028.03 L915,1027.93 L915.83,1028.26 L916.67,1027.69 L917.5,1027.9 L918.3,1028.12 L919.11,1027.77 L919.91,1027.81 L920.71,1027.6 L921.52,1027.82 L922.32,1027.68 L923.12,1027.42 L923.93,1027.47 L924.73,1027.51 L925.54,1027.32 L926.34,1027.83 L927.14,1027.36 L927.95,1027.09 L928.75,1027.1 L929.56,1027.34 L930.38,1027.18 L931.19,1027.01 L932,1027.05 L932.81,1026.77 L933.62,1027.29 L934.44,1027.45 L935.25,1027.1 L936.06,1026.95 L936.88,1026.75 L937.69,1026.86 L938.5,1027.12 L939.31,1026.98 L940.12,1027.09 L940.94,1026.94 L941.75,1027.09 L942.56,1027.07 L943.38,1027.16 L944.19,1027.14 L945,1027.1 L946.03,1027.5 L947.07,1027.61 L948.1,1028.1 L948.93,1027.73 L949.77,1027.19 L950.6,1027.1 L951.55,1027.41 L952.5,1027.9 L953.33,1027.58 L954.17,1027.35 L955,1026.9 L955.94,1026.93 L956.88,1027.31 L957.81,1027.7 L958.75,1028.1 L959.64,1027.73 L960.54,1027.81 L961.43,1027.71 L962.32,1027.48 L963.21,1027.86 L964.11,1027.3 L965,1027.25 L965.83,1027.28 L966.67,1026.8 L967.5,1027.32 L968.33,1027.16 L969.17,1027.1 L970,1026.54 L970.83,1026.95 L971.67,1026.78 L972.5,1026.97 L973.33,1026.83 L974.17,1026.68 L975,1026.65 L975.83,1026.97 L976.67,1026.9 L977.5,1026.6 L978.39,1026.32 L979.29,1026.66 L980.18,1026.97 L981.07,1026.81 L981.96,1027.04 L982.86,1026.98 L983.75,1027.1 L984.56,1027.61 L985.36,1027.56 L986.17,1027.51 L986.98,1028 L987.79,1027.97 L988.59,1028.34 L989.4,1028.1 L990.25,1027.83 L991.1,1027.42 L991.95,1027.74 L992.8,1027.39 L993.65,1026.82 L994.5,1027 L995.34,1026.29 L996.19,1027.25 L997.03,1027.35 L997.87,1027.27 L998.71,1027.45 L999.56,1027.68 L1000.4,1027.75 L1001.21,1027.39 L1002.02,1027.88 L1002.83,1027.25 L1003.64,1027.46 L1004.45,1027.38 L1005.25,1027.19 L1006.06,1027.06 L1006.87,1027.33 L1007.68,1026.72 L1008.49,1026.99 L1009.3,1026.9 L1010.19,1027.43 L1011.08,1027.09 L1011.97,1027.09 L1012.86,1027.49 L1013.75,1027.75 L1014.69,1026.86 L1015.62,1027.07 L1016.56,1026.72 L1017.5,1026.7 L1018.31,1026.63 L1019.12,1026.71 L1019.93,1027.13 L1020.74,1027.1 L1021.55,1026.97 L1022.35,1027.56 L1023.16,1027.17 L1023.97,1027.79 L1024.78,1027.46 L1025.59,1027.46 L1026.4,1027.75 L1027.23,1026.91 L1028.07,1026.57 L1028.9,1025.5 L1029.83,1025.37 L1030.77,1025.17 L1031.7,1024.65 L1032.63,1024.84 L1033.57,1024.61 L1034.5,1024.5 L1035.5,1025.06 L1036.5,1025.6 L1037.5,1026.4 L1038.32,1026.06 L1039.14,1026.69 L1039.97,1026.2 L1040.79,1026.54 L1041.61,1026.53 L1042.43,1026.44 L1043.26,1026.44 L1044.08,1026.55 L1044.9,1026.4 L1045.71,1026.4 L1046.52,1026.54 L1047.33,1026.7 L1048.14,1026.74 L1048.95,1026.7 L1049.75,1026.26 L1050.56,1026.91 L1051.37,1026.72 L1052.18,1027.32 L1052.99,1027.41 L1053.8,1027.2 L1054.63,1027.2 L1055.46,1027.15 L1056.28,1026.6 L1057.11,1026.95 L1057.94,1026.76 L1058.77,1027.27 L1059.59,1026.53 L1060.42,1027.25 L1061.25,1026.7 L1062.08,1026.72 L1062.91,1026.37 L1063.73,1027.27 L1064.56,1026.88 L1065.39,1027.07 L1066.22,1027.28 L1067.04,1026.75 L1067.87,1027.05 L1068.7,1027.2 L1069.59,1027.12 L1070.47,1027.26 L1071.36,1026.83 L1072.24,1026.88 L1073.13,1026.25 L1074.01,1026.64 L1074.9,1026.4 L1075.75,1026.66 L1076.6,1027.23 L1077.45,1027.78 L1078.3,1028.2 L1079.14,1028.44 L1079.97,1028.13 L1080.81,1028.42 L1081.65,1028.29 L1082.49,1028.53 L1083.33,1028.34 L1084.16,1028.78 L1085,1028.5 L1086.1,1029.03 L1087.2,1030 L1088,1032.4 L1088.82,1032.11 L1089.64,1032.56 L1090.47,1032.05 L1091.29,1032.29 L1092.11,1032.23 L1092.93,1031.64 L1093.76,1031.88 L1094.58,1031.77 L1095.4,1031.8 L1096.24,1031.99 L1097.09,1031.9 L1097.93,1032.47 L1098.77,1032.68 L1099.61,1032.6 L1100.46,1033.06 L1101.3,1033.25 L1102.15,1033.3 L1103,1032.86 L1103.85,1033.21 L1104.7,1033.41 L1105.55,1033.37 L1106.4,1032.95 L1107.25,1033.01 L1108.1,1033.18 L1108.95,1033.25 L1109.8,1033.33 L1110.65,1033.16 L1111.5,1033.3 L1112.35,1032.97 L1113.2,1033.1 L1114.04,1033.48 L1114.88,1033.02 L1115.71,1032.82 L1116.55,1032.88 L1117.39,1032.59 L1118.22,1032.79 L1119.06,1032.86 L1119.9,1033.01 L1120.74,1033.12 L1121.58,1032.67 L1122.41,1032.67 L1123.25,1032.95 L1124.09,1033 L1124.92,1032.92 L1125.76,1032.78 L1126.6,1032.7 L1127.4,1032.42 L1128.21,1032.53 L1129.01,1032.28 L1129.82,1032.45 L1130.62,1032.85 L1131.42,1032.89 L1132.23,1032.46 L1133.03,1032.63 L1133.84,1032.77 L1134.64,1032.22 L1135.45,1032.13 L1136.25,1032.26 L1137.05,1031.91 L1137.86,1032.5 L1138.66,1032.3 L1139.47,1032.23 L1140.27,1032.28 L1141.08,1032.35 L1141.88,1032.22 L1142.68,1031.93 L1143.49,1032.31 L1144.29,1032.03 L1145.1,1032.18 L1145.9,1032.1 L1146.73,1031.98 L1147.55,1032.17 L1148.38,1031.86 L1149.2,1032.27 L1150.03,1032.21 L1150.85,1032.55 L1151.67,1032.18 L1152.5,1032.4 L1153.5,1032.57 L1154.5,1033.28 L1155.5,1033.5 L1156.5,1032.59 L1157.5,1032.7 L1158.5,1032.1 L1159.35,1032.07 L1160.19,1031.99 L1161.04,1032.11 L1161.88,1032.03 L1162.73,1031.89 L1163.58,1032.25 L1164.42,1031.89 L1165.27,1032.12 L1166.12,1032.05 L1166.96,1031.93 L1167.81,1031.95 L1168.65,1032.15 L1169.5,1032.1" stroke="#b22222" stroke-width="1.15"/>
<path d="M129.5,1199 H1169.5" stroke="#000" stroke-width="2.08"/>
<path d="M763.75,1186.8 L772.3,1188.6 L782.7,1190.5 L793,1191 L800.7,1191.5 L808.4,1191 L818.75,1191 L830.8,1191.8 L842.8,1191.1 L853.1,1191.7 L866.9,1191.8 L872.9,1191.1 L878.9,1191.8 L896.1,1191.5 L903.8,1192.3 L918.4,1192 L928.75,1192.7 L940.8,1192.5 L958,1191.8 L977.2,1192 L994.4,1192.9 L1006.4,1192.5 L1012.4,1191.7 L1018.4,1192.3 L1042.5,1192.9 L1066.6,1192.3 L1083.75,1192.7 L1094,1193.2 L1114.7,1193.2 L1131.9,1193.5 L1149,1193.7 L1164.5,1193.5" stroke="#ff0000" stroke-width="2.3" stroke-linecap="butt"/>
</g>
<path d="M129.5,1217.5 h-2.35 M129.5,1208.5 h-2.35 M129.5,1199.5 h-2.35 M129.5,1192.5 h-2.35 M129.5,1142.5 h-2.35 M129.5,1116.5 h-2.35 M129.5,1098.5 h-2.35 M129.5,1084.5 h-2.35 M129.5,1073.5 h-2.35 M129.5,1063.5 h-2.35 M129.5,1055.5 h-2.35 M129.5,1048.5 h-2.35 M129.5,998.5 h-2.35 M129.5,972.5 h-2.35 M129.5,954.5 h-2.35 M129.5,940.5 h-2.35 M129.5,929.5 h-2.35 M129.5,919.5 h-2.35 M129.5,911.5 h-2.35 M129.5,903.5 h-2.35 M129.5,853.5 h-2.35 M129.5,828.5 h-2.35 M129.5,810.5 h-2.35 M129.5,796.5 h-2.35 M129.5,785.5 h-2.35 M129.5,775.5 h-2.35 M129.5,767.5 h-2.35 M129.5,759.5 h-2.35 M129.5,709.5 h-2.35" stroke="#000" stroke-opacity="0.78" stroke-width="1" fill="none"/>
<path d="M129.5,1185.5 h-4.5 M129.5,1041.5 h-4.5 M129.5,897.5 h-4.5 M129.5,753.5 h-4.5" stroke="#000" stroke-width="1" fill="none"/>
<path d="M1169.5,1179.5 h2.2 M1169.5,1157.5 h2.2 M1169.5,1141.5 h2.2 M1169.5,1128.5 h2.2 M1169.5,1118.5 h2.2 M1169.5,1110.5 h2.2 M1169.5,1103.5 h2.2 M1169.5,1096.5 h2.2 M1169.5,1052.5 h2.2 M1169.5,1030.5 h2.2 M1169.5,1014.5 h2.2 M1169.5,1001.5 h2.2 M1169.5,991.5 h2.2 M1169.5,983.5 h2.2 M1169.5,976.5 h2.2 M1169.5,969.5 h2.2 M1169.5,925.5 h2.2 M1169.5,903.5 h2.2 M1169.5,887.5 h2.2 M1169.5,874.5 h2.2 M1169.5,864.5 h2.2 M1169.5,856.5 h2.2 M1169.5,849.5 h2.2 M1169.5,842.5 h2.2 M1169.5,798.5 h2.2 M1169.5,776.5 h2.2 M1169.5,760.5 h2.2 M1169.5,747.5 h2.2 M1169.5,737.5 h2.2 M1169.5,729.5 h2.2 M1169.5,722.5 h2.2 M1169.5,715.5 h2.2" stroke="#000" stroke-opacity="0.78" stroke-width="1" fill="none"/>
<path d="M1169.5,1217.5 h4.45 M1169.5,1090.5 h4.45 M1169.5,963.5 h4.45 M1169.5,836.5 h4.45 M1169.5,709.5 h4.45" stroke="#b22222" stroke-width="1" fill="none"/>
<path d="M186.5,1217.5 v4.5 M368.5,1217.5 v4.5 M549.5,1217.5 v4.5 M731.5,1217.5 v4.5 M913.5,1217.5 v4.5 M1094.5,1217.5 v4.5" stroke="#000" stroke-width="1" fill="none"/>
<path d="M129.5,1217.5 V709.5 M129.0,709.5 H1169.5 M129.0,1217.5 H1169.5" stroke="#000" stroke-width="1" fill="none" stroke-linecap="butt"/>
<path d="M1169.5,709.0 V1218.0" stroke="#b22222" stroke-width="1" fill="none"/>
<text x="82.9" y="1194.9" font-size="28.3">10<tspan font-size="19.8" dy="-10.7">2</tspan></text>
<text x="82.9" y="1050.9" font-size="28.3">10<tspan font-size="19.8" dy="-10.7">3</tspan></text>
<text x="82.9" y="906.9" font-size="28.3">10<tspan font-size="19.8" dy="-10.7">4</tspan></text>
<text x="82.9" y="762.9" font-size="28.3">10<tspan font-size="19.8" dy="-10.7">5</tspan></text>
<text x="1177.3" y="1226.9" font-size="28.3" fill="#b22222">10<tspan font-size="19.8" dy="-10.3">0</tspan></text>
<text x="1177.3" y="1099.9" font-size="28.3" fill="#b22222">10<tspan font-size="19.8" dy="-10.3">1</tspan></text>
<text x="1177.3" y="972.9" font-size="28.3" fill="#b22222">10<tspan font-size="19.8" dy="-10.3">2</tspan></text>
<text x="1177.3" y="845.9" font-size="28.3" fill="#b22222">10<tspan font-size="19.8" dy="-10.3">3</tspan></text>
<text x="1177.3" y="718.9" font-size="28.3" fill="#b22222">10<tspan font-size="19.8" dy="-10.3">4</tspan></text>
<text transform="translate(1241.7,1144.6) rotate(-90)" font-size="33.33" textLength="359.3" lengthAdjust="spacing" fill="#b22222">BLM B2 beam lifetime (h)</text>
<g transform="translate(61.4,1027.7) rotate(-90)">
<text x="-0.4" y="-15.5" font-size="23.33" font-style="italic">dN/dt</text>
<path d="M0,-7.4 H52.8" stroke="#000" stroke-width="2" fill="none"/>
</g>
<g transform="translate(56,990) scale(0.01875)"><circle cx="325" cy="430" r="54" fill="#000"/><path d="M335,395 C295,335 210,345 180,420 C158,480 170,560 235,625" fill="none" stroke="#000" stroke-width="42" stroke-linecap="round"/><path d="M195,575 C300,640 420,680 560,720 C680,755 760,790 820,850 C800,760 810,680 840,600 C870,520 870,440 850,380 C835,335 810,300 795,280 L835,275 C880,340 940,430 960,540 C975,650 950,760 930,850 C925,900 935,960 950,1010 L925,1020 C880,960 800,920 700,880 C560,830 400,790 290,720 C240,690 205,640 195,575 Z" fill="#000"/></g>
<g transform="translate(61.4,1027.7) rotate(-90)">
<text x="56" y="-1.5" font-size="33.33" xml:space="preserve"> (mb)</text>
</g>
<rect x="920.5" y="723.5" width="235" height="90" rx="5.3" ry="5.3" fill="#fff" fill-opacity="0.8" stroke="#d6d6d6" stroke-width="1.3"/>
<path d="M930.8,744 H988.2" stroke="#ff0000" stroke-width="2.05"/>
<path d="M930.8,786 H988.2" stroke="#000" stroke-width="2.05"/>
<text x="1010" y="753.8" font-size="27.78">Beam 2</text>
<text y="794.8" font-size="27.78"><tspan x="1010.3" font-style="italic">σ</tspan><tspan font-size="19.45" font-style="italic" dy="4.4">inel</tspan><tspan x="1054.3" y="794.8" textLength="19.6" lengthAdjust="spacingAndGlyphs">=</tspan><tspan x="1074.4" y="794.8">80 mb</tspan></text>
<text transform="translate(438.9,149.6) rotate(-90)" font-size="17">STABLE</text>
<text x="186" y="1243.9" font-size="27.78" text-anchor="middle">24 02:10</text>
<text x="367.65" y="1243.9" font-size="27.78" text-anchor="middle">24 02:15</text>
<text x="549.3" y="1243.9" font-size="27.78" text-anchor="middle">24 02:20</text>
<text x="730.95" y="1243.9" font-size="27.78" text-anchor="middle">24 02:25</text>
<text x="912.6" y="1243.9" font-size="27.78" text-anchor="middle">24 02:30</text>
<text x="1094.25" y="1243.9" font-size="27.78" text-anchor="middle">24 02:35</text>
</svg></body></html>
